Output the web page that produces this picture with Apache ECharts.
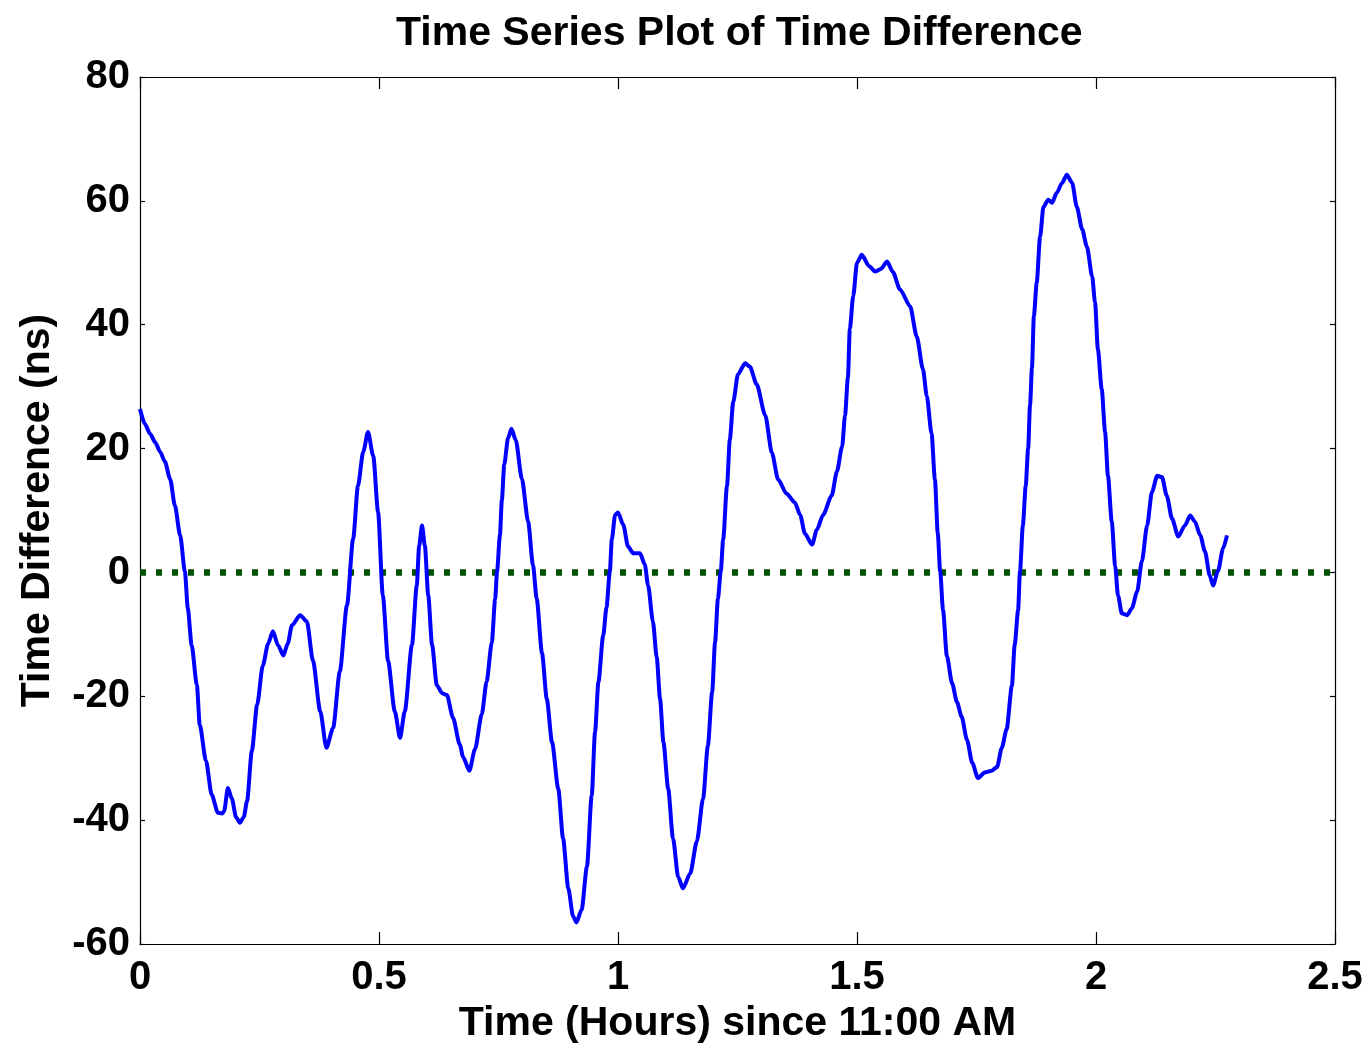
<!DOCTYPE html>
<html>
<head>
<meta charset="utf-8">
<script src="https://cdn.jsdelivr.net/npm/echarts@6/dist/echarts.min.js"></script>
<style>
html,body{margin:0;padding:0;background:#fff;}
#chart{width:1370px;height:1049px;}
</style>
</head>
<body>
<div id="chart"></div>
<script>
const titleText = 'Time Series Plot of Time Difference';
const xAxisName = 'Time (Hours) since 11:00 AM';
const yAxisName = 'Time Difference (ns)';

const timeHours = [
0.000,0.010,0.021,0.032,0.042,0.052,0.063,0.073,0.084,0.094,0.100,0.108,0.119,0.125,0.138,0.150,0.163,0.172,0.176,0.184,
0.192,0.201,0.209,0.217,0.224,0.234,0.245,0.257,0.268,0.278,0.289,0.300,0.309,0.318,0.335,0.349,0.362,0.377,0.390,0.404,
0.418,0.433,0.446,0.456,0.467,0.477,0.488,0.498,0.508,0.519,0.533,0.544,0.554,0.569,0.579,0.584,0.590,0.596,0.603,0.611,
0.621,0.632,0.642,0.655,0.669,0.676,0.689,0.701,0.715,0.725,0.736,0.743,0.747,0.753,0.757,0.762,0.770,0.777,0.786,0.799,
0.812,0.822,0.830,0.841,0.851,0.862,0.875,0.885,0.896,0.906,0.913,0.924,0.935,0.945,0.952,0.959,0.969,0.976,0.983,0.987,
0.994,1.000,1.011,1.021,1.032,1.046,1.056,1.063,1.073,1.081,1.088,1.095,1.105,1.115,1.126,1.136,1.151,1.165,1.178,1.188,
1.197,1.203,1.209,1.215,1.220,1.228,1.234,1.241,1.251,1.266,1.276,1.290,1.308,1.322,1.335,1.353,1.370,1.381,1.391,1.406,
1.416,1.429,1.447,1.458,1.469,1.475,1.481,1.485,1.492,1.500,1.510,1.525,1.538,1.550,1.563,1.575,1.590,1.611,1.625,1.638,
1.646,1.656,1.663,1.669,1.674,1.680,1.688,1.699,1.709,1.719,1.730,1.741,1.753,1.767,1.782,1.793,1.803,1.813,1.824,1.830,
1.837,1.841,1.847,1.853,1.858,1.862,1.866,1.870,1.876,1.883,1.890,1.900,1.908,1.918,1.929,1.939,1.950,1.960,1.971,1.981,
1.992,1.998,2.004,2.012,2.019,2.025,2.033,2.040,2.046,2.054,2.065,2.075,2.086,2.096,2.107,2.117,2.128,2.138,2.148,2.159,
2.172,2.186,2.197,2.207,2.218,2.228,2.238,2.245,2.255,2.266,2.274
];
const timeDiffNs = [
26.4,24.0,22.4,21.0,19.5,17.9,15.1,10.8,6.0,0.1,-5.8,-11.7,-18.2,-24.6,-30.4,-35.9,-38.8,-38.9,-38.5,-34.8,
-36.5,-39.5,-40.4,-39.5,-36.9,-28.8,-21.4,-15.0,-11.5,-9.5,-11.8,-13.4,-11.5,-8.5,-6.9,-7.9,-14.3,-22.4,-28.3,-25.1,
-16.0,-5.3,5.5,14.0,19.5,22.7,18.8,9.8,-3.7,-14.3,-22.4,-26.7,-22.4,-11.7,-2.1,4.3,7.6,4.3,-3.7,-11.7,
-18.2,-19.5,-19.8,-23.5,-27.8,-29.8,-32.0,-28.5,-22.9,-17.7,-11.3,-4.3,0.2,6.0,11.7,17.4,21.7,23.2,21.4,15.1,
8.2,1.3,-4.3,-13.0,-20.4,-27.4,-34.9,-42.9,-51.0,-55.5,-56.5,-54.4,-47.5,-36.0,-25.7,-17.7,-10.2,-5.6,0.2,5.3,
9.3,9.7,7.7,4.2,3.1,3.1,1.3,-2.1,-7.9,-13.7,-20.4,-27.4,-34.9,-42.9,-49.2,-51.0,-48.6,-43.4,-36.5,-28.0,
-19.3,-11.3,-4.3,0.2,5.3,14.0,21.5,27.5,32.0,33.8,33.2,30.4,25.4,19.3,15.0,12.7,11.3,9.3,6.3,4.5,
6.9,9.3,12.4,16.3,20.4,25.4,31.5,39.3,44.6,50.0,51.3,49.5,48.6,49.0,50.2,48.5,45.7,43.0,38.1,32.8,
28.5,22.4,15.0,6.3,0.2,-6.1,-13.5,-17.9,-20.9,-23.3,-27.0,-30.7,-33.2,-32.3,-32.0,-31.4,-28.3,-25.3,-18.3,-11.6,
-6.1,0.2,7.6,14.0,20.0,27.0,33.0,41.4,46.8,54.2,59.0,60.2,59.7,61.3,62.9,64.2,62.9,59.0,55.4,52.6,
47.8,43.6,36.0,29.6,22.7,15.6,8.2,1.1,-3.7,-6.6,-6.9,-5.8,-3.1,1.8,7.6,13.0,15.6,15.4,12.4,8.7,
5.8,7.6,9.2,8.2,6.0,3.4,-0.5,-2.1,0.2,3.9,6.0
];
const zeroLineX = [0, 2.5];
const zeroLineY = [0, 0];

const xMin = 0, xMax = 2.5, xStep = 0.5;
const yMin = -60, yMax = 80, yStep = 20;

const seriesData = timeHours.map((t, i) => [t, timeDiffNs[i]]);
const zeroData = zeroLineX.map((t, i) => [t, zeroLineY[i]]);

const FONT = "'Liberation Sans', Arial, Helvetica, sans-serif";
const axisLine = { show: true, onZero: false, lineStyle: { color: '#000', width: 1.2 } };
const xTick = { show: true, inside: true, length: 12, lineStyle: { color: '#000', width: 1.2 } };
const yTick = { show: true, inside: true, length: 5, lineStyle: { color: '#000', width: 1.2 } };
const lbl = { color: '#000', fontFamily: FONT, fontWeight: 'bold', fontSize: 40 };

const chart = echarts.init(document.getElementById('chart'), null, { renderer: 'canvas' });
chart.setOption({
  animation: false,
  backgroundColor: '#fff',
  title: {
    text: titleText, left: 391, top: 8,
    textStyle: { color: '#000', fontFamily: FONT, fontWeight: 'bold', fontSize: 41 }
  },
  grid: { left: 140, right: 35, top: 77, bottom: 101, containLabel: false },
  xAxis: [
    {
      type: 'value', min: xMin, max: xMax, interval: xStep, position: 'bottom',
      name: xAxisName, nameLocation: 'middle', nameGap: 56,
      nameTextStyle: { color: '#000', fontFamily: FONT, fontWeight: 'bold', fontSize: 41 },
      axisLine: axisLine, axisTick: xTick,
      axisLabel: Object.assign({ margin: 14 }, lbl),
      splitLine: { show: false }
    },
    {
      type: 'value', min: xMin, max: xMax, interval: xStep, position: 'top',
      axisLine: axisLine, axisTick: xTick, axisLabel: { show: false }, splitLine: { show: false }
    }
  ],
  yAxis: [
    {
      type: 'value', min: yMin, max: yMax, interval: yStep, position: 'left',
      name: yAxisName, nameLocation: 'middle', nameGap: 82, nameRotate: 90,
      nameTextStyle: { color: '#000', fontFamily: FONT, fontWeight: 'bold', fontSize: 41 },
      axisLine: axisLine, axisTick: yTick,
      axisLabel: Object.assign({ margin: 10 }, lbl),
      splitLine: { show: false }
    },
    {
      type: 'value', min: yMin, max: yMax, interval: yStep, position: 'right',
      axisLine: axisLine, axisTick: yTick, axisLabel: { show: false }, splitLine: { show: false }
    }
  ],
  series: [
    {
      type: 'line', data: seriesData, xAxisIndex: 0, yAxisIndex: 0,
      showSymbol: false, symbol: 'none', smooth: 0.25, smoothMonotone: 'x',
      lineStyle: { color: '#0000ff', width: 4 }, z: 3
    },
    {
      type: 'line', data: zeroData, xAxisIndex: 0, yAxisIndex: 0,
      showSymbol: false, symbol: 'none',
      lineStyle: { color: '#005000', width: 6.5, type: [6, 10], cap: 'butt' }, z: 2
    }
  ]
});
</script>
</body>
</html>
